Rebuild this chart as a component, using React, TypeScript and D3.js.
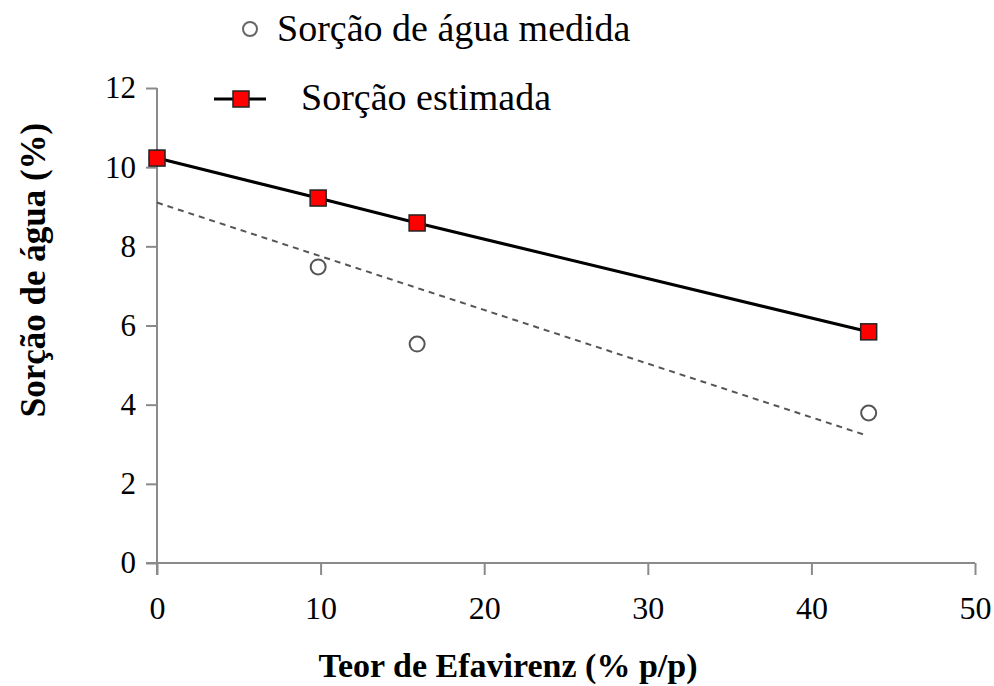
import React, { useEffect, useRef } from "react";
import * as d3 from "d3";

// Teor de Efavirenz (% p/p)
const teor = [0, 9.85, 15.9, 43.5];
// Sorção de água medida (%)
const medida = [10.23, 7.48, 5.53, 3.79];
// Sorção estimada (%)
const estimada = [10.23, 9.22, 8.59, 5.84];

const xTicks = [0, 10, 20, 30, 40, 50];
const yTicks = [0, 2, 4, 6, 8, 10, 12];

const W = 994;
const H = 686;
const FONT = "'Liberation Serif', 'Times New Roman', serif";

const App: React.FC = () => {
  const svgRef = useRef<SVGSVGElement | null>(null);

  useEffect(() => {
    document.body.style.margin = "0";
    if (!svgRef.current) return;
    const svg = d3.select(svgRef.current);
    svg.selectAll("*").remove();

    const margin = { top: 88, right: 19, bottom: 123, left: 157 };

    const x = d3.scaleLinear().domain([0, 50]).range([margin.left, W - margin.right]);
    const y = d3.scaleLinear().domain([0, 12]).range([H - margin.bottom, margin.top]);

    const axisColor = "#8a8a8a";

    // eixo X
    const gx = svg
      .append("g")
      .attr("transform", `translate(0, ${y(0)})`)
      .call(d3.axisBottom(x).tickValues(xTicks).tickSize(12).tickSizeOuter(0).tickPadding(21));
    gx.select(".domain").attr("stroke", axisColor).attr("stroke-width", 2)
      .attr("d", `M${x(0) - 11},0H${x(50)}`);
    gx.selectAll("line").attr("stroke", axisColor).attr("stroke-width", 2);
    gx.selectAll("text")
      .attr("fill", "#000")
      .style("font-family", FONT)
      .style("font-size", "32px");

    // eixo Y
    const gy = svg
      .append("g")
      .attr("transform", `translate(${x(0)}, 0)`)
      .call(d3.axisLeft(y).tickValues(yTicks).tickSize(11).tickSizeOuter(0).tickPadding(10));
    gy.select(".domain").attr("stroke", axisColor).attr("stroke-width", 2)
      .attr("d", `M0,${y(0) + 12}V${y(12)}`);
    gy.selectAll("line").attr("stroke", axisColor).attr("stroke-width", 2);
    gy.selectAll("text")
      .attr("fill", "#000")
      .style("font-family", FONT)
      .style("font-size", "31px");

    // títulos dos eixos
    svg
      .append("text")
      .attr("x", 508)
      .attr("y", 677)
      .attr("text-anchor", "middle")
      .style("font-family", FONT)
      .style("font-weight", "bold")
      .style("font-size", "34px")
      .text("Teor de Efavirenz (% p/p)");

    svg
      .append("text")
      .attr("transform", `translate(45, 270) rotate(-90)`)
      .attr("text-anchor", "middle")
      .style("font-family", FONT)
      .style("font-weight", "bold")
      .style("font-size", "35px")
      .text("Sorção de água (%)");

    // linha de tendência (regressão dos valores medidos)
    const mx = d3.mean(teor)!;
    const my = d3.mean(medida)!;
    const sxy = d3.sum(teor, (t, i) => (t - mx) * (medida[i] - my));
    const sxx = d3.sum(teor, (t) => (t - mx) ** 2);
    const slope = sxy / sxx;
    const intercept = my - slope * mx;
    const xMin = d3.min(teor)!;
    const xMax = d3.max(teor)!;
    svg
      .append("line")
      .attr("x1", x(xMin))
      .attr("y1", y(intercept + slope * xMin))
      .attr("x2", x(xMax) - 5)
      .attr("y2", y(intercept + slope * (xMax - 0.3)))
      .attr("stroke", "#555")
      .attr("stroke-width", 2)
      .attr("stroke-dasharray", "6 5");

    // linha estimada
    const line = d3
      .line<number>()
      .x((_, i) => x(teor[i]))
      .y((d) => y(d));
    svg
      .append("path")
      .datum(estimada)
      .attr("d", line)
      .attr("fill", "none")
      .attr("stroke", "#000")
      .attr("stroke-width", 3);

    // pontos medidos
    svg
      .append("g")
      .selectAll("circle")
      .data(medida)
      .enter()
      .append("circle")
      .attr("cx", (_, i) => x(teor[i]))
      .attr("cy", (d) => y(d))
      .attr("r", 7.5)
      .attr("fill", "#fff")
      .attr("stroke", "#555")
      .attr("stroke-width", 2);

    // pontos estimados
    const sq = 16;
    svg
      .append("g")
      .selectAll("rect")
      .data(estimada)
      .enter()
      .append("rect")
      .attr("x", (_, i) => x(teor[i]) - sq / 2)
      .attr("y", (d) => y(d) - sq / 2)
      .attr("width", sq)
      .attr("height", sq)
      .attr("fill", "#ff0000")
      .attr("stroke", "#222")
      .attr("stroke-width", 1.5);

    // legenda
    const leg = svg.append("g");
    leg
      .append("circle")
      .attr("cx", 250)
      .attr("cy", 29)
      .attr("r", 7)
      .attr("fill", "#fff")
      .attr("stroke", "#666")
      .attr("stroke-width", 2);
    leg
      .append("text")
      .attr("x", 277)
      .attr("y", 41)
      .style("font-family", FONT)
      .style("font-size", "38px")
      .text("Sorção de água medida");

    leg
      .append("line")
      .attr("x1", 214)
      .attr("x2", 266)
      .attr("y1", 99)
      .attr("y2", 99)
      .attr("stroke", "#000")
      .attr("stroke-width", 3);
    leg
      .append("rect")
      .attr("x", 240 - sq / 2 + 1)
      .attr("y", 99 - sq / 2)
      .attr("width", sq)
      .attr("height", sq)
      .attr("fill", "#ff0000")
      .attr("stroke", "#222")
      .attr("stroke-width", 1.5);
    leg
      .append("text")
      .attr("x", 301)
      .attr("y", 110)
      .style("font-family", FONT)
      .style("font-size", "38px")
      .text("Sorção estimada");
  }, []);

  return <svg ref={svgRef} width={W} height={H} style={{ display: "block", background: "#fff" }} />;
};

export default App;
